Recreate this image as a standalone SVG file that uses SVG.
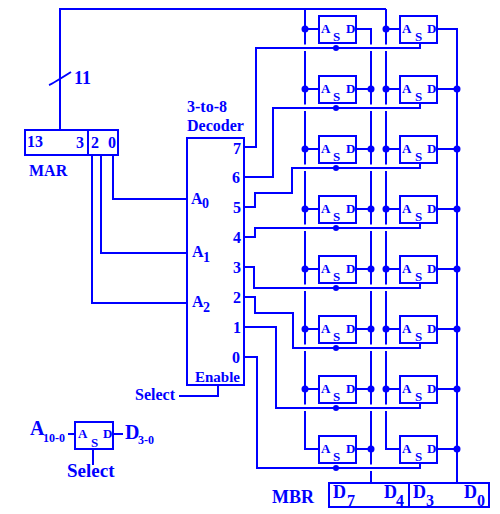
<svg xmlns="http://www.w3.org/2000/svg" width="500" height="514" viewBox="0 0 500 514">
<style>
rect.b{fill:none;stroke:#0000ff;stroke-width:2}
path.w{fill:none;stroke:#0000ff;stroke-width:2}
text{font-family:"Liberation Serif","Times New Roman",serif;font-weight:bold;fill:#0000ff}
.c{font-size:13px}
.l{font-size:16px}
.m{font-size:18px}
.s{font-size:14px}
circle{fill:#0000ff}
</style>
<rect width="500" height="514" fill="#ffffff"/>
<g id="connectors">
<path class="w" d="M60 130V9H386M49 85Q52 84 71 72"/>
<path class="w" d="M305 9V44.500M305 51V104.500M305 111V164.500M305 171V224.500M305 231V284.500M305 291V344.500M305 351V404.500M305 411V449H319"/>
<path class="w" d="M386 9V44.500M386 51V104.500M386 111V164.500M386 171V224.500M386 231V284.500M386 291V344.500M386 351V404.500M386 411V449H400"/>
<path class="w" d="M356 29H371V44.500M371 51V104.500M371 111V164.500M371 171V224.500M371 231V284.500M371 291V344.500M371 351V404.500M371 411V464.500M371 471V483"/>
<path class="w" d="M437 29H457V483"/>
<path class="w" d="M305 29H319M305 89H319M305 149H319M305 209H319M305 269H319M305 329H319M305 389H319"/>
<path class="w" d="M386 29H400M386 89H400M386 149H400M386 209H400M386 269H400M386 329H400M386 389H400"/>
<path class="w" d="M356 89H371M356 149H371M356 209H371M356 269H371M356 329H371M356 389H371M356 449H371"/>
<path class="w" d="M437 89H457M437 149H457M437 209H457M437 269H457M437 329H457M437 389H457M437 449H457"/>
<path class="w" d="M244 147H256V48H420V43"/>
<path class="w" d="M244 177H273V108H420V103"/>
<path class="w" d="M244 207H255V193H292V168H420V163"/>
<path class="w" d="M244 237H255V228H420V223"/>
<path class="w" d="M244 267H254V288H420V283"/>
<path class="w" d="M244 297H255V313H293V348H420V343"/>
<path class="w" d="M244 327H276V408H420V403"/>
<path class="w" d="M244 357H257V468H420V463"/>
<path class="w" d="M113 155V199H187M101 155V253H187M92 155V303H187"/>
<path class="w" d="M179 396H218V385"/>
<g>
<circle cx="305" cy="29" r="3.500"/><circle cx="305" cy="89" r="3.500"/><circle cx="305" cy="149" r="3.500"/><circle cx="305" cy="209" r="3.500"/><circle cx="305" cy="269" r="3.500"/><circle cx="305" cy="329" r="3.500"/><circle cx="305" cy="389" r="3.500"/>
<circle cx="386" cy="29" r="3.500"/><circle cx="386" cy="89" r="3.500"/><circle cx="386" cy="149" r="3.500"/><circle cx="386" cy="209" r="3.500"/><circle cx="386" cy="269" r="3.500"/><circle cx="386" cy="329" r="3.500"/><circle cx="386" cy="389" r="3.500"/>
<circle cx="371" cy="89" r="3.500"/><circle cx="371" cy="149" r="3.500"/><circle cx="371" cy="209" r="3.500"/><circle cx="371" cy="269" r="3.500"/><circle cx="371" cy="329" r="3.500"/><circle cx="371" cy="389" r="3.500"/><circle cx="371" cy="449" r="3.500"/>
<circle cx="457" cy="89" r="3.500"/><circle cx="457" cy="149" r="3.500"/><circle cx="457" cy="209" r="3.500"/><circle cx="457" cy="269" r="3.500"/><circle cx="457" cy="329" r="3.500"/><circle cx="457" cy="389" r="3.500"/><circle cx="457" cy="449" r="3.500"/>
<circle cx="336" cy="48" r="3"/><circle cx="336" cy="108" r="3"/><circle cx="336" cy="168" r="3"/><circle cx="336" cy="228" r="3"/><circle cx="336" cy="288" r="3"/><circle cx="336" cy="348" r="3"/><circle cx="336" cy="408" r="3"/><circle cx="336" cy="468" r="3"/>
</g>
</g>
<g id="label-11"><text x="74" y="84" font-size="18">11</text></g>
<g id="mar">
<rect class="b" x="25" y="130" width="93" height="25"/><path class="w" d="M88 130V155"/>
<text class="l" x="27" y="147">13</text><text class="l" x="76" y="148">3</text><text class="l" x="91" y="148">2</text><text class="l" x="108" y="148">0</text>
<text class="l" x="29" y="176">MAR</text>
</g>
<g id="decoder">
<rect class="b" x="187" y="138" width="57" height="247"/>
<text class="l" x="187" y="112">3-to-8</text><text class="l" x="187" y="131">Decoder</text>
<text class="l" x="233" y="154">7</text><text class="l" x="232" y="183">6</text><text class="l" x="233" y="213">5</text><text class="l" x="233" y="243">4</text><text class="l" x="233" y="273">3</text><text class="l" x="233" y="303">2</text><text class="l" x="233" y="333">1</text><text class="l" x="232" y="363">0</text>
<text class="l" x="191" y="204">A</text><text class="s" x="202" y="208">0</text>
<text class="l" x="192" y="257">A</text><text class="s" x="203" y="262">1</text>
<text class="l" x="192" y="307">A</text><text class="s" x="203" y="312">2</text>
<text x="195" y="382" font-size="15">Enable</text>
</g>
<g id="select-label"><text class="l" x="135" y="400">Select</text></g>
<g id="cell-0-hi"><rect class="b" x="319" y="16" width="37" height="27"/><text class="c" x="321" y="33">A</text><text class="c" x="333" y="41">S</text><text class="c" x="346" y="33">D</text></g>
<g id="cell-0-lo"><rect class="b" x="400" y="16" width="37" height="27"/><text class="c" x="402" y="33">A</text><text class="c" x="415" y="41">S</text><text class="c" x="427" y="33">D</text></g>
<g id="cell-1-hi"><rect class="b" x="319" y="76" width="37" height="27"/><text class="c" x="321" y="93">A</text><text class="c" x="333" y="101">S</text><text class="c" x="346" y="93">D</text></g>
<g id="cell-1-lo"><rect class="b" x="400" y="76" width="37" height="27"/><text class="c" x="402" y="93">A</text><text class="c" x="415" y="101">S</text><text class="c" x="427" y="93">D</text></g>
<g id="cell-2-hi"><rect class="b" x="319" y="136" width="37" height="27"/><text class="c" x="321" y="153">A</text><text class="c" x="333" y="161">S</text><text class="c" x="346" y="153">D</text></g>
<g id="cell-2-lo"><rect class="b" x="400" y="136" width="37" height="27"/><text class="c" x="402" y="153">A</text><text class="c" x="415" y="161">S</text><text class="c" x="427" y="153">D</text></g>
<g id="cell-3-hi"><rect class="b" x="319" y="196" width="37" height="27"/><text class="c" x="321" y="213">A</text><text class="c" x="333" y="221">S</text><text class="c" x="346" y="213">D</text></g>
<g id="cell-3-lo"><rect class="b" x="400" y="196" width="37" height="27"/><text class="c" x="402" y="213">A</text><text class="c" x="415" y="221">S</text><text class="c" x="427" y="213">D</text></g>
<g id="cell-4-hi"><rect class="b" x="319" y="256" width="37" height="27"/><text class="c" x="321" y="273">A</text><text class="c" x="333" y="281">S</text><text class="c" x="346" y="273">D</text></g>
<g id="cell-4-lo"><rect class="b" x="400" y="256" width="37" height="27"/><text class="c" x="402" y="273">A</text><text class="c" x="415" y="281">S</text><text class="c" x="427" y="273">D</text></g>
<g id="cell-5-hi"><rect class="b" x="319" y="316" width="37" height="27"/><text class="c" x="321" y="333">A</text><text class="c" x="333" y="341">S</text><text class="c" x="346" y="333">D</text></g>
<g id="cell-5-lo"><rect class="b" x="400" y="316" width="37" height="27"/><text class="c" x="402" y="333">A</text><text class="c" x="415" y="341">S</text><text class="c" x="427" y="333">D</text></g>
<g id="cell-6-hi"><rect class="b" x="319" y="376" width="37" height="27"/><text class="c" x="321" y="393">A</text><text class="c" x="333" y="401">S</text><text class="c" x="346" y="393">D</text></g>
<g id="cell-6-lo"><rect class="b" x="400" y="376" width="37" height="27"/><text class="c" x="402" y="393">A</text><text class="c" x="415" y="401">S</text><text class="c" x="427" y="393">D</text></g>
<g id="cell-7-hi"><rect class="b" x="319" y="436" width="37" height="27"/><text class="c" x="321" y="453">A</text><text class="c" x="333" y="461">S</text><text class="c" x="346" y="453">D</text></g>
<g id="cell-7-lo"><rect class="b" x="400" y="436" width="37" height="27"/><text class="c" x="402" y="453">A</text><text class="c" x="415" y="461">S</text><text class="c" x="427" y="453">D</text></g>
<g id="mbr">
<rect class="b" x="329" y="483" width="160" height="24"/><path class="w" d="M409 483V507"/>
<text x="272" y="503" font-size="18">MBR</text>
<text class="m" x="333" y="498">D</text><text class="l" x="347" y="506">7</text>
<text class="m" x="384" y="498">D</text><text class="l" x="396" y="506">4</text>
<text class="m" x="413" y="498">D</text><text class="l" x="426" y="506">3</text>
<text class="m" x="464" y="498">D</text><text class="l" x="477" y="506">0</text>
</g>
<g id="legend">
<rect class="b" x="75" y="422" width="38" height="27"/>
<path class="w" d="M68 434H75M113 434H123M93 449V465"/>
<text class="c" x="78" y="438">A</text><text class="c" x="91" y="447">S</text><text class="c" x="103" y="438">D</text>
<text x="30" y="435" font-size="20">A</text><text x="43" y="442" font-size="12">10-0</text>
<text x="125" y="439" font-size="20">D</text><text x="138" y="444" font-size="12">3-0</text>
<text x="67" y="477" font-size="19">Select</text>
</g>
</svg>
